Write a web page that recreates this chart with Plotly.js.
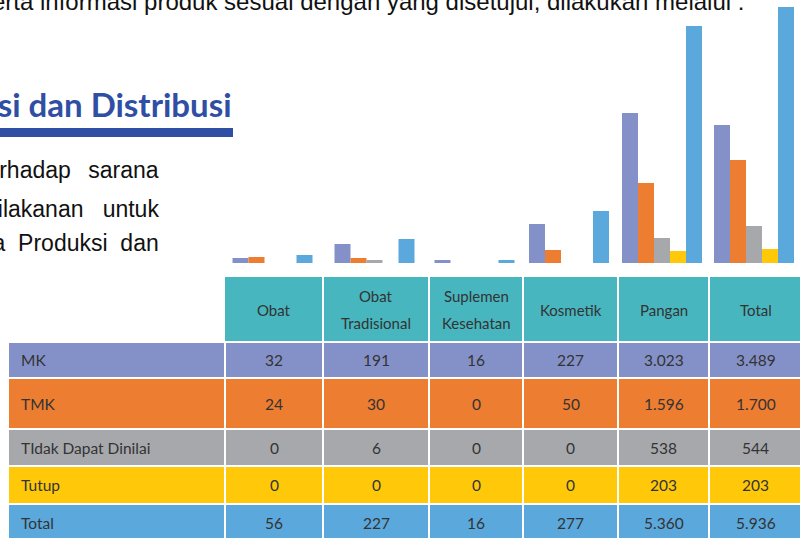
<!DOCTYPE html>
<html>
<head>
<meta charset="utf-8">
<script src="https://cdn.plot.ly/plotly-3.0.1.min.js"></script>
<style>html,body{margin:0;padding:0;background:#fff;overflow:hidden}#chart{width:800px;height:538px}</style>
</head>
<body>
<div id="chart"></div>
<script>
// ---- data ----
const categories = ['Obat','Obat Tradisional','Suplemen Kesehatan','Kosmetik','Pangan','Total'];
const headerLabels = ['Obat','Obat<br>Tradisional','Suplemen<br>Kesehatan','Kosmetik','Pangan','Total'];
const seriesNames = ['MK','TMK','TIdak Dapat Dinilai','Tutup','Total'];
// bar heights
const barMK    = [113, 430, 68, 881, 3390, 3119];
const barTMK   = [136, 113, 0, 294, 1808, 2328];
const barTDD   = [0, 68, 0, 0, 565, 836];
const barTutup = [0, 0, 0, 0, 271, 316];
const barTotal = [181, 542, 68, 1175, 5356, 5786];
// table values as printed
const tabMK    = ['32','191','16','227','3.023','3.489'];
const tabTMK   = ['24','30','0','50','1.596','1.700'];
const tabTDD   = ['0','6','0','0','538','544'];
const tabTutup = ['0','0','0','0','203','203'];
const tabTotal = ['56','227','16','277','5.360','5.936'];

// ---- style / layout ----
const W = 800, H = 538;
const colors = ['#8491C8','#ED7D31','#A7A8AC','#FFC90A','#5BA8DC'];
const headerColor = '#47B6BF';
const colEdges = [225, 323, 429, 523, 618, 709, 802];
const labelLeft = 9;
const headerTop = 277, headerBottom = 342;
const rowEdges = [342, 378, 429, 466, 504, 542];
const gap = 2;
const fontT = 'Lato, "Open Sans", sans-serif';
const textCol = '#333333';
const headerLineGap = 27;

const px = x => x / W;
const py = y => 1 - y / H;

const groupCenters = categories.map((c, i) => (colEdges[i] + colEdges[i + 1]) / 2 - 1.5);
const barW = 16;
const barSeries = [barMK, barTMK, barTDD, barTutup, barTotal];
const traces = barSeries.map((vals, k) => ({
  type: 'bar', x: groupCenters, y: vals, name: seriesNames[k],
  width: barW, offset: -40 + k * barW,
  marker: {color: colors[k], line: {width: 0}},
  hoverinfo: 'skip', showlegend: false
}));

const shapes = [];
const annotations = [];

// header cells
for (let i = 0; i < categories.length; i++) {
  const x0 = colEdges[i] + (i === 0 ? 0 : gap / 2), x1 = colEdges[i + 1] - gap / 2;
  shapes.push({type: 'rect', xref: 'paper', yref: 'paper', x0: px(x0), x1: px(x1),
    y0: py(headerTop), y1: py(headerBottom - gap / 2), fillcolor: headerColor, line: {width: 0}, layer: 'below'});
  const lines = headerLabels[i].split('<br>');
  const yc = (headerTop + headerBottom) / 2;
  lines.forEach((ln, j) => {
    const yy = yc + (j - (lines.length - 1) / 2) * headerLineGap;
    annotations.push({xref: 'paper', yref: 'paper', x: px((x0 + x1) / 2), y: py(yy),
      text: ln, showarrow: false, xanchor: 'center', yanchor: 'middle',
      font: {family: fontT, size: 15, color: textCol}, align: 'center'});
  });
}
// body rows
const tabRows = [tabMK, tabTMK, tabTDD, tabTutup, tabTotal];
for (let r = 0; r < seriesNames.length; r++) {
  const y0 = rowEdges[r] + gap / 2, y1 = rowEdges[r + 1] - gap / 2;
  const yc = (y0 + y1) / 2;
  shapes.push({type: 'rect', xref: 'paper', yref: 'paper', x0: px(labelLeft), x1: px(colEdges[0] - gap / 2),
    y0: py(y0), y1: py(y1), fillcolor: colors[r], line: {width: 0}, layer: 'below'});
  annotations.push({xref: 'paper', yref: 'paper', x: px(19), y: py(yc), text: seriesNames[r],
    showarrow: false, xanchor: 'left', yanchor: 'middle', font: {family: fontT, size: 15.5, color: textCol}});
  for (let i = 0; i < categories.length; i++) {
    const x0 = colEdges[i] + gap / 2, x1 = colEdges[i + 1] - gap / 2;
    shapes.push({type: 'rect', xref: 'paper', yref: 'paper', x0: px(x0), x1: px(x1),
      y0: py(y0), y1: py(y1), fillcolor: colors[r], line: {width: 0}, layer: 'below'});
    annotations.push({xref: 'paper', yref: 'paper', x: px((x0 + x1) / 2), y: py(yc), text: tabRows[r][i],
      showarrow: false, xanchor: 'center', yanchor: 'middle', font: {family: fontT, size: 15.5, color: textCol}});
  }
}

// surrounding document text
const bodyFont = {family: '"Liberation Sans", Arial, sans-serif', size: 23, color: '#111111'};
annotations.push({xref: 'paper', yref: 'paper', x: px(746), y: py(17), xanchor: 'right', yanchor: 'bottom',
  text: 'serta informasi produk sesuai dengan yang disetujui, dilakukan melalui :', showarrow: false,
  font: {family: bodyFont.family, size: 24, color: '#111111'}});
annotations.push({xref: 'paper', yref: 'paper', x: px(234), y: py(104), xanchor: 'right', yanchor: 'middle',
  text: '<b>Inspeksi dan Distribusi</b>', showarrow: false,
  font: {family: 'Lato, sans-serif', size: 33, color: '#2F4FA5'}});
shapes.push({type: 'rect', xref: 'paper', yref: 'paper', x0: 0, x1: px(233), y0: py(137), y1: py(128),
  fillcolor: '#2F4FA5', line: {width: 0}});
const paraLines = ['terhadap  &#8201;sarana', 'dilakanan   untuk', 'sarana  Produksi  dan'];
const paraY = [170, 209, 243];
paraLines.forEach((t, i) => annotations.push({xref: 'paper', yref: 'paper', x: px(161), y: py(paraY[i]),
  xanchor: 'right', yanchor: 'middle', text: t.replace(/ /g, '&nbsp;'), showarrow: false, font: bodyFont}));

const layout = {
  width: W, height: H, margin: {l: 0, r: 0, t: 0, b: 0},
  paper_bgcolor: '#ffffff', plot_bgcolor: 'rgba(0,0,0,0)',
  barmode: 'overlay',
  xaxis: {range: [0, W], domain: [0, 1], visible: false, fixedrange: true},
  yaxis: {range: [0, 5944], domain: [py(263), 1], visible: false, fixedrange: true},
  shapes, annotations, showlegend: false
};
Plotly.newPlot('chart', traces, layout, {staticPlot: true, displayModeBar: false});
</script>
</body>
</html>
